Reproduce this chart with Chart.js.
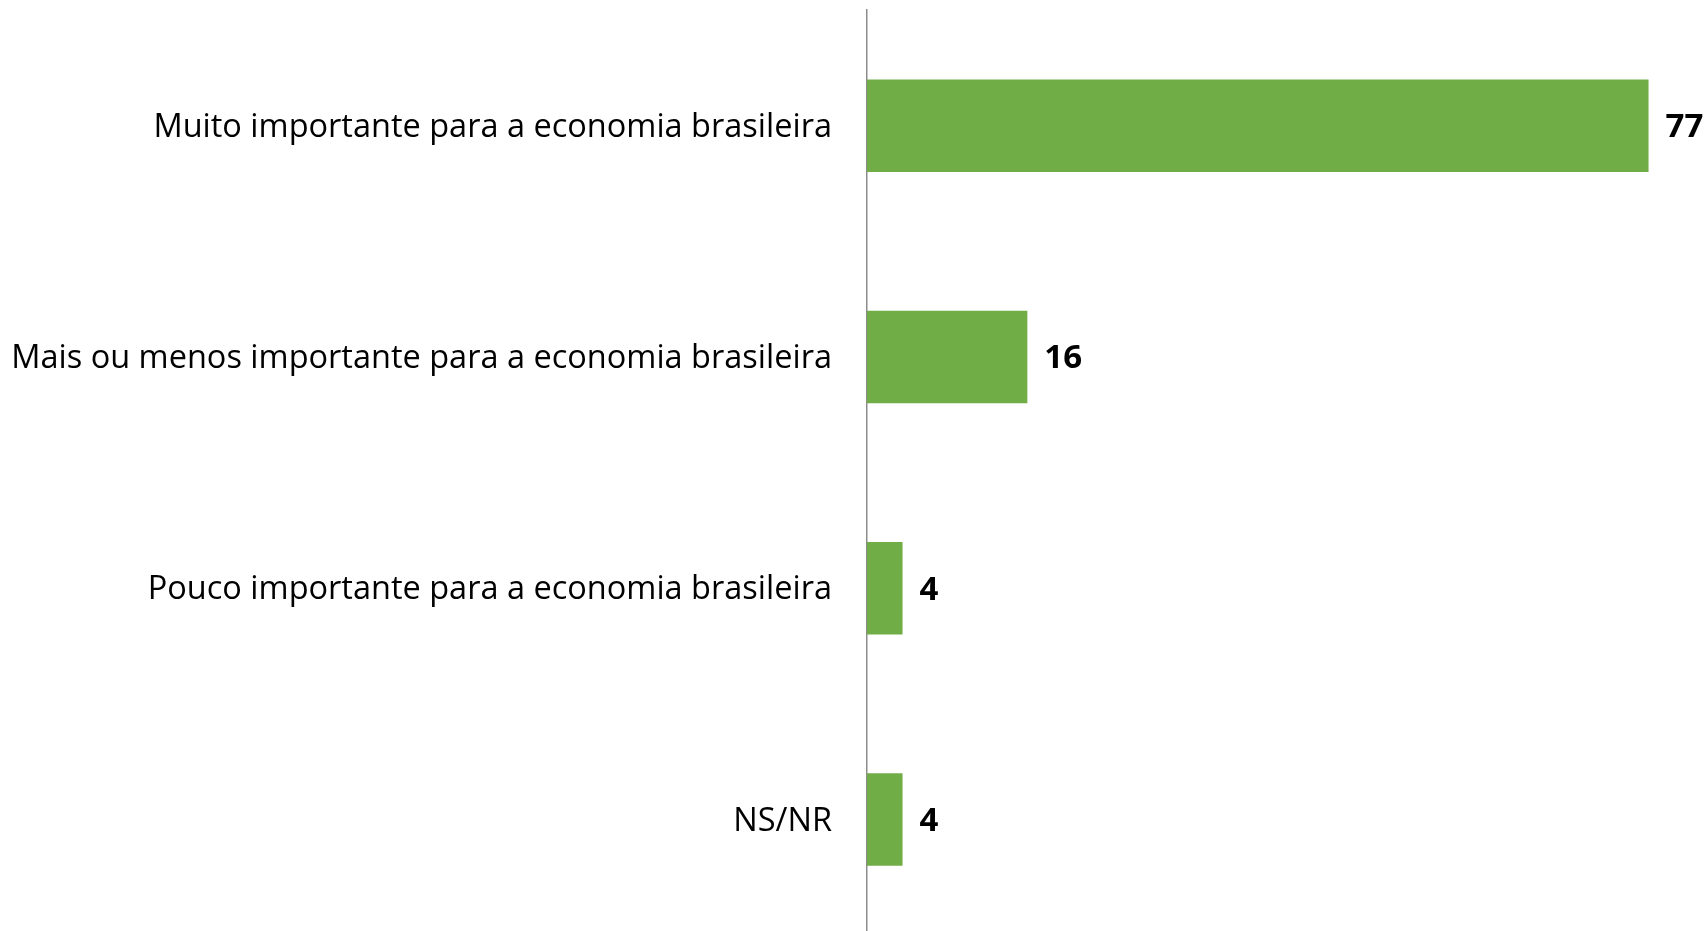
<!DOCTYPE html>
<html>
<head>
<meta charset="utf-8">
<script src="https://cdn.jsdelivr.net/npm/chart.js@4"></script>
<style>
html,body{margin:0;padding:0;background:#fff;overflow:hidden;}
#wrap{width:1705px;height:935px;position:relative;}
</style>
</head>
<body>
<div id="wrap"><canvas id="c"></canvas></div>
<script>
const categories = [
  "Muito importante para a economia brasileira",
  "Mais ou menos importante para a economia brasileira",
  "Pouco importante para a economia brasileira",
  "NS/NR"
];
const values = [77, 15.8, 3.5, 3.5];
const valueLabels = ["77", "16", "4", "4"];

const labelPlugin = {
  id: 'valLabels',
  afterDatasetsDraw(chart) {
    const ctx = chart.ctx;
    const meta = chart.getDatasetMeta(0);
    ctx.save();
    ctx.font = 'bold 33px "Open Sans", sans-serif';
    ctx.fillStyle = '#000';
    ctx.textAlign = 'left';
    ctx.textBaseline = 'middle';
    meta.data.forEach((bar, i) => {
      ctx.fillText(valueLabels[i], bar.x + 17, bar.y + 2);
    });
    ctx.restore();
  }
};

new Chart(document.getElementById('c'), {
  type: 'bar',
  data: {
    labels: categories,
    datasets: [{
      data: values,
      backgroundColor: '#70AD47',
      borderWidth: 0,
      barPercentage: 0.8,
      categoryPercentage: 0.5
    }]
  },
  options: {
    indexAxis: 'y',
    responsive: true,
    maintainAspectRatio: false,
    animation: false,
    layout: { padding: { top: 10, right: 26, bottom: 0, left: 0 } },
    plugins: { legend: { display: false }, tooltip: { enabled: false } },
    scales: {
      x: { display: false, min: 0, max: 80 },
      y: {
        afterFit(s) { s.width = 867; s.paddingTop = 0; s.paddingBottom = 0; },
        grid: { display: false, drawTicks: false },
        border: { display: true, color: '#8c8c8c', width: 1.5 },
        ticks: {
          color: '#000',
          padding: 35,
          labelOffset: 2,
          font: { family: '"Open Sans", sans-serif', size: 32.5 }
        }
      }
    }
  },
  plugins: [labelPlugin]
});
</script>
</body>
</html>
